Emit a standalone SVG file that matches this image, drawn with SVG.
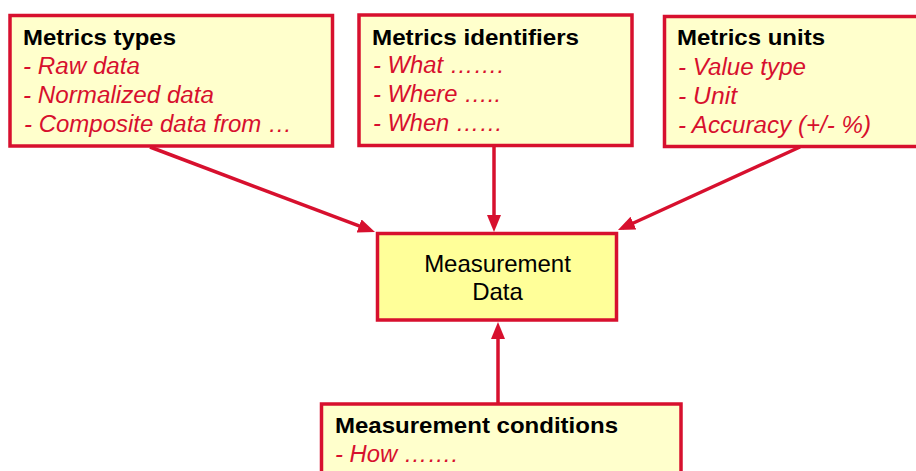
<svg xmlns="http://www.w3.org/2000/svg" width="916" height="471" viewBox="0 0 916 471">
<style>
.box{fill:#FFFFCC;stroke:#D7102E;stroke-width:3.5}
.main{fill:#FFFF99;stroke:#D7102E;stroke-width:3.5}
.t{font-family:"Liberation Sans",Arial,sans-serif;font-size:22px;font-weight:bold;fill:#000}
.i{font-family:"Liberation Sans",Arial,sans-serif;font-size:23px;font-style:italic;fill:#D7102E}
.c{font-family:"Liberation Sans",Arial,sans-serif;font-size:24px;fill:#000;text-anchor:middle}
.e{stroke:#D7102E;stroke-width:3.5;fill:none;marker-end:url(#ah)}
</style>
<defs>
<marker id="ah" markerUnits="userSpaceOnUse" markerWidth="20" markerHeight="16" refX="12" refY="7" orient="auto">
<path d="M0,0 L17,7 L0,14 z" fill="#D7102E"/>
</marker>
</defs>
<rect width="916" height="471" fill="#fff"/>
<g id="connectors">
<line class="e" x1="150" y1="147" x2="370.3" y2="230.2"/>
<line class="e" x1="494" y1="147" x2="494" y2="227"/>
<line class="e" x1="800" y1="147" x2="622.5" y2="228"/>
<line class="e" x1="498" y1="403" x2="498" y2="327"/>
</g>
<g id="metrics-types">
<rect class="box" x="10" y="15.5" width="322.5" height="130.5"/>
<text class="t" x="23" y="45" textLength="153" lengthAdjust="spacingAndGlyphs">Metrics types</text>
<text class="i" x="23" y="74" textLength="117" lengthAdjust="spacingAndGlyphs">- Raw data</text>
<text class="i" x="23" y="103" textLength="191" lengthAdjust="spacingAndGlyphs">- Normalized data</text>
<text class="i" x="24" y="132" textLength="268" lengthAdjust="spacingAndGlyphs">- Composite data from …</text>
</g>
<g id="metrics-identifiers">
<rect class="box" x="359" y="15" width="273" height="130.5"/>
<text class="t" x="372" y="45" textLength="207" lengthAdjust="spacingAndGlyphs">Metrics identifiers</text>
<text class="i" x="373" y="73" textLength="131" lengthAdjust="spacingAndGlyphs">- What …….</text>
<text class="i" x="373" y="102" textLength="128" lengthAdjust="spacingAndGlyphs">- Where …..</text>
<text class="i" x="373" y="131" textLength="130" lengthAdjust="spacingAndGlyphs">- When ……</text>
</g>
<g id="metrics-units">
<rect class="box" x="664.5" y="16.5" width="262" height="130"/>
<text class="t" x="677" y="45" textLength="148" lengthAdjust="spacingAndGlyphs">Metrics units</text>
<text class="i" x="678" y="75" textLength="128" lengthAdjust="spacingAndGlyphs">- Value type</text>
<text class="i" x="678" y="104" textLength="59" lengthAdjust="spacingAndGlyphs">- Unit</text>
<text class="i" x="678" y="133" textLength="193" lengthAdjust="spacingAndGlyphs">- Accuracy (+/- %)</text>
</g>
<g id="measurement-data">
<rect class="main" x="377.5" y="233.5" width="239" height="86.5"/>
<text class="c" x="497.5" y="272">Measurement</text>
<text class="c" x="497.5" y="300">Data</text>
</g>
<g id="measurement-conditions">
<rect class="box" x="321.5" y="404" width="359.5" height="80"/>
<text class="t" x="335" y="433" textLength="283" lengthAdjust="spacingAndGlyphs">Measurement conditions</text>
<text class="i" x="335" y="462" textLength="123" lengthAdjust="spacingAndGlyphs">- How …….</text>
</g>
</svg>
